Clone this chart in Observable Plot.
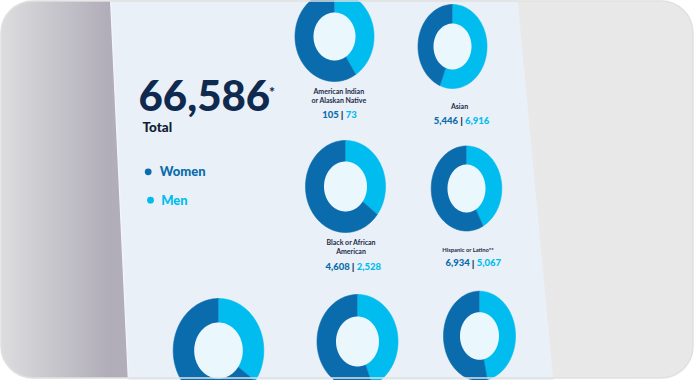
<!DOCTYPE html>
<html><head><meta charset="utf-8">
<script src="https://cdn.jsdelivr.net/npm/d3@7"></script>
<script src="https://cdn.jsdelivr.net/npm/@observablehq/plot@0.6"></script>
<style>html,body{margin:0;padding:0;background:#fff;} svg{display:block}</style>
</head><body><div id="chart"></div>
<script>
// ---- data ----
const totalValue = "66,586";
const totalLabel = "Total";
const legendLabels = ["Women", "Men"];
const groups = ["American Indian\nor Alaskan Native", "Asian", "Black or African\nAmerican", "Hispanic or Latino**"];
const women = [105, 5446, 4608, 6934];
const men = [73, 6916, 2528, 5067];
// lower row (labels cut off in the picture): estimated shares, %
const lowerWomenShare = [65, 56, 53.5];
const lowerMenShare = [35, 44, 46.5];

// ---- style / layout ----
const WOMEN = "#0a6cad", MEN = "#00bcef";
const PAPER = "#e9f0f7", HOLE = "#eaf8fe", NAVY = "#0f2a4e", LABEL = "#1c2b47";
const FONT = "Lato, 'Open Sans', sans-serif";
const donutLayout = [
  {cx:334, cy:36, rx:39.5, ry:45, hx:21, hy:24},
  {cx:452, cy:46, rx:34.5, ry:42, hx:19, hy:23},
  {cx:345, cy:186, rx:40, ry:46, hx:21.5, hy:25},
  {cx:466, cy:188, rx:35.3, ry:42.5, hx:19, hy:24},
  {cx:218, cy:350, rx:45.3, ry:52, hx:24.3, hy:28},
  {cx:357, cy:341, rx:40.5, ry:47, hx:21.5, hy:25},
  {cx:479, cy:335.5, rx:36, ry:44.8, hx:19.5, hy:23.8}
];
const labelLayout = [
  {lx:338.3, ly:102.7, bx:341.7, ny:117.3, fs:7},
  {lx:459, ly:108.3, bx:461, ny:123.3, fs:7},
  {lx:350.5, ly:253.7, bx:352.7, ny:269, fs:7},
  {lx:467.5, ly:251.7, bx:472.7, ny:265.7, fs:5.8}
];

// shares of men per donut
const menShare = [
  ...women.map((w, i) => men[i] / (w + men[i])),
  ...lowerMenShare.map((m, i) => m / (m + lowerWomenShare[i]))
];

// wedge polygons
const wedges = [];
menShare.forEach((m, i) => {
  const L = donutLayout[i];
  const segs = [["Men", 0, m], ["Women", m, 1]];
  for (const [sex, a0, a1] of segs) {
    const key = i + sex;
    wedges.push({key, sex, x: L.cx, y: L.cy});
    const n = Math.max(2, Math.ceil((a1 - a0) * 180));
    for (let k = 0; k <= n; k++) {
      const t = 2 * Math.PI * (a0 + (a1 - a0) * k / n);
      wedges.push({key, sex, x: L.cx + L.rx * Math.sin(t), y: L.cy - L.ry * Math.cos(t)});
    }
  }
});
const holes = [];
donutLayout.forEach((L, i) => {
  for (let k = 0; k <= 180; k++) {
    const t = 2 * Math.PI * k / 180;
    holes.push({key: i, x: L.cx + L.hx * Math.sin(t), y: L.cy - L.hy * Math.cos(t)});
  }
});

const paper = [{x:110,y:-2},{x:517,y:-2},{x:553,y:382},{x:128,y:382}];
const paperEdge = [{x:110,y:-2},{x:128,y:382}];

const labels = groups.map((g, i) => ({text: g, x: labelLayout[i].lx, y: labelLayout[i].ly, fs: labelLayout[i].fs}));
const fmt = d3.format(",");
const nums = women.map((w, i) => ({w: fmt(w), m: fmt(men[i]), x: labelLayout[i].bx, y: labelLayout[i].ny}));
const legend = legendLabels.map((s, i) => ({s, x: [147.7, 150][i], y: [171.3, 199.7][i], tx: [159.3, 160.7][i]}));

function defs() {
  const ns = "http://www.w3.org/2000/svg";
  const d = document.createElementNS(ns, "defs");
  d.innerHTML = `<linearGradient id="lg" gradientUnits="userSpaceOnUse" x1="0" y1="0" x2="694" y2="0">
    <stop offset="0" stop-color="#dddddf"/><stop offset="0.155" stop-color="#b1aeb9"/>
    <stop offset="0.3" stop-color="#b1aeb9"/><stop offset="0.3" stop-color="#e9e9e9"/>
    <stop offset="1" stop-color="#e8e8e8"/></linearGradient>`;
  return d;
}

const chart = Plot.plot({
  width: 694, height: 380,
  margin: 0,
  x: {domain: [0, 694], range: [0, 694], axis: null},
  y: {domain: [0, 380], range: [0, 380], axis: null},
  color: {domain: ["Women", "Men"], range: [WOMEN, MEN]},
  style: {background: "#fff", fontFamily: FONT},
  marks: [
    defs,
    Plot.rect([0], {x1: 1, x2: 693, y1: 1, y2: 378, rx: 32, fill: "url(#lg)"}),
    Plot.line(paper, {x: "x", y: "y", fill: PAPER, stroke: "none"}),
    Plot.line(paperEdge, {x: "x", y: "y", stroke: "#f4f6fa", strokeWidth: 1.2}),
    Plot.line(wedges, {x: "x", y: "y", z: "key", fill: "sex", stroke: "sex", strokeWidth: 0.6}),
    Plot.line(holes, {x: "x", y: "y", z: "key", fill: HOLE, stroke: "none"}),
    // big total
    Plot.text([totalValue], {x: 138, y: 110.5, text: d => d, textAnchor: "start", lineAnchor: "bottom",
      fontSize: 42, fontWeight: 900, fill: NAVY}),
    Plot.text(["*"], {x: 268.5, y: 96, text: d => d, textAnchor: "start", lineAnchor: "bottom",
      fontSize: 14, fontWeight: 900, fill: NAVY}),
    Plot.text([totalLabel], {x: 142, y: 131.2, text: d => d, textAnchor: "start", lineAnchor: "bottom",
      fontSize: 13.5, fontWeight: 900, fill: "#111d33"}),
    // legend
    Plot.dot(legend, {x: "x", y: "y", r: 3.4, fill: "s", stroke: null}),
    Plot.text(legend, {x: "tx", y: d => d.y + 4.6, text: "s", fill: "s", textAnchor: "start", lineAnchor: "bottom",
      fontSize: 13, fontWeight: 900}),
    // group labels
    Plot.text(labels, {x: "x", y: "y", text: "text", textAnchor: "middle", lineAnchor: "bottom",
      fontSize: "fs", fontWeight: 700, lineHeight: 1.3, fill: LABEL}),
    Plot.text(nums, {x: d => d.x - 3.5, y: "y", text: "w", textAnchor: "end", lineAnchor: "bottom",
      fontSize: 9.5, fontWeight: 900, fill: WOMEN}),
    Plot.text(nums, {x: "x", y: d => d.y + 0.5, text: () => "|", textAnchor: "middle", lineAnchor: "bottom",
      fontSize: 10, fontWeight: 900, fill: NAVY}),
    Plot.text(nums, {x: d => d.x + 3.5, y: "y", text: "m", textAnchor: "start", lineAnchor: "bottom",
      fontSize: 9.5, fontWeight: 900, fill: MEN}),
    // frame outline
    Plot.rect([0], {x1: 1, x2: 693, y1: 1, y2: 378, rx: 32, fill: "none", stroke: "#e0e0e0", strokeWidth: 1.5})
  ]
});
document.getElementById("chart").appendChild(chart);
</script>
</body></html>
